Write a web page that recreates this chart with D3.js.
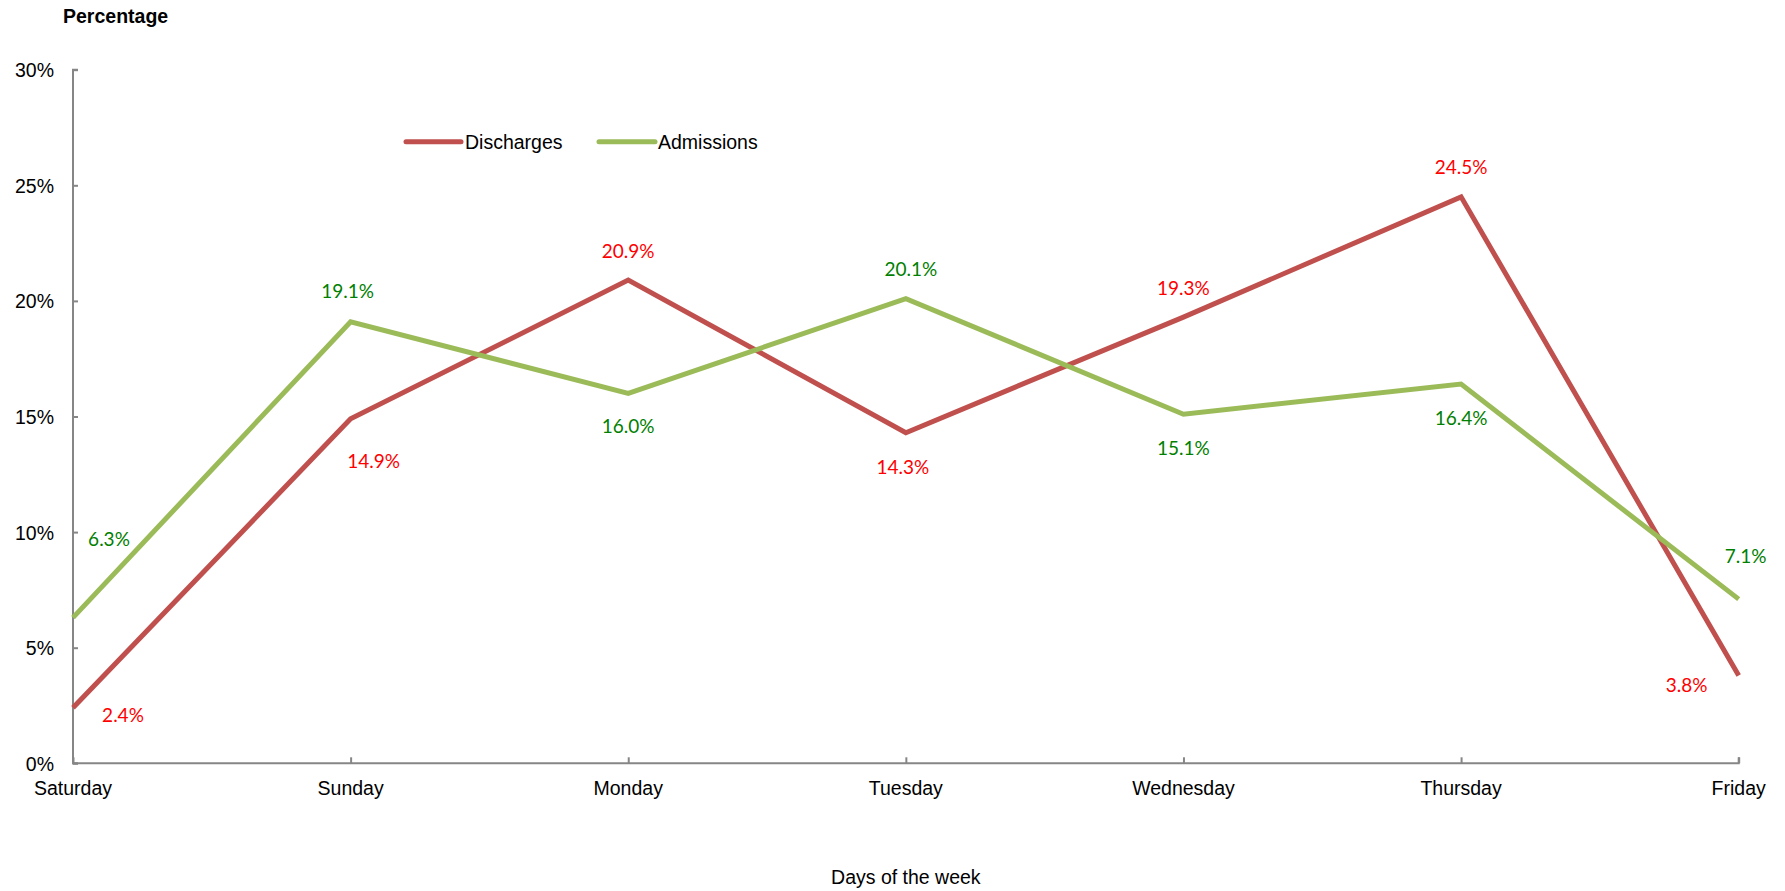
<!DOCTYPE html>
<html>
<head>
<meta charset="utf-8">
<script src="https://cdn.jsdelivr.net/npm/d3@7"></script>
<style>
  body { margin: 0; background: #fff; }
  svg { display: block; }
  .axis-text { font-family: "Liberation Sans", Arial, sans-serif; font-size: 19.5px; fill: #000; }
  .data-label { font-family: Lato, "Open Sans", sans-serif; font-size: 19px; }
</style>
</head>
<body>
<div id="chart"></div>
<script>
// Data
const days = ["Saturday", "Sunday", "Monday", "Tuesday", "Wednesday", "Thursday", "Friday"];
const discharges = [2.4, 14.9, 20.9, 14.3, 19.3, 24.5, 3.8];
const admissions = [6.3, 19.1, 16.0, 20.1, 15.1, 16.4, 7.1];
const yTicks = [0, 5, 10, 15, 20, 25, 30];

// label placement relative to each point (dx, dy)
const dischargeLabelPos = [[50, 7], [23, 42], [0, -29], [-3, 34], [0, -29], [0, -30], [-52, 10]];
const admissionLabelPos = [[36, -78], [-3, -31], [0, 33], [5, -29], [0, 34], [0, 34], [7, -43]];

function createLineChart() {
    const W = 1785, H = 891;
    const left = 73, right = 1738.7, top = 69.7, bottom = 763.3;

    const svg = d3.select("#chart").append("svg")
        .attr("width", W)
        .attr("height", H);

    // Skalor
    const x = d3.scalePoint().domain(days).range([left, right]);
    const y = d3.scaleLinear().domain([0, 30]).range([bottom, top]);

    // Y-axel
    const yAxis = svg.append("g")
        .attr("transform", `translate(${left},0)`)
        .call(d3.axisRight(y).tickValues(yTicks).tickSize(5).tickFormat(d => d + "%"));
    yAxis.select(".domain").attr("d", `M5,${top}H0V${bottom}H5`);
    yAxis.selectAll("line, path").attr("stroke", "#868686").attr("stroke-width", 2);
    yAxis.selectAll("text")
        .attr("class", "axis-text")
        .attr("x", -19)
        .attr("dy", "0.36em")
        .attr("text-anchor", "end");

    // X-axel
    const xAxis = svg.append("g")
        .attr("transform", `translate(0,${bottom})`)
        .call(d3.axisTop(x).tickSize(6).tickFormat(""));
    xAxis.select(".domain").attr("d", `M${left},-6V0H${right}V-6`);
    xAxis.selectAll("line, path").attr("stroke", "#868686").attr("stroke-width", 2);

    svg.append("g").selectAll("text")
        .data(days)
        .enter().append("text")
        .attr("class", "axis-text")
        .attr("x", d => x(d))
        .attr("y", 787.7)
        .attr("dy", "0.36em")
        .attr("text-anchor", "middle")
        .text(d => d);

    // Titlar
    svg.append("text")
        .attr("class", "axis-text")
        .attr("x", 63)
        .attr("y", 16)
        .attr("dy", "0.36em")
        .style("font-weight", "bold")
        .text("Percentage");

    svg.append("text")
        .attr("class", "axis-text")
        .attr("x", (left + right) / 2)
        .attr("y", 877)
        .attr("dy", "0.36em")
        .attr("text-anchor", "middle")
        .text("Days of the week");

    // Linjer
    const series = [
        { name: "Discharges", values: discharges, color: "#C0504D", labelColor: "#FF0000", pos: dischargeLabelPos },
        { name: "Admissions", values: admissions, color: "#9BBB59", labelColor: "#008000", pos: admissionLabelPos }
    ];

    const line = d3.line()
        .x((d, i) => x(days[i]))
        .y(d => y(d));

    series.forEach(s => {
        svg.append("path")
            .datum(s.values)
            .attr("fill", "none")
            .attr("stroke", s.color)
            .attr("stroke-width", 5)
            .attr("stroke-linejoin", "miter")
            .attr("d", line);
    });

    // Datavärden
    series.forEach(s => {
        svg.append("g").selectAll("text")
            .data(s.values)
            .enter().append("text")
            .attr("class", "data-label")
            .attr("fill", s.labelColor)
            .attr("x", (d, i) => x(days[i]) + s.pos[i][0])
            .attr("y", (d, i) => y(d) + s.pos[i][1])
            .attr("dy", "0.36em")
            .attr("text-anchor", "middle")
            .text(d => d.toFixed(1) + "%");
    });

    // Legend
    const legendItems = [
        { s: series[0], x1: 406, x2: 461, tx: 465 },
        { s: series[1], x1: 599, x2: 655, tx: 658 }
    ];
    const legend = svg.append("g");
    legendItems.forEach(item => {
        legend.append("line")
            .attr("x1", item.x1).attr("x2", item.x2)
            .attr("y1", 141.7).attr("y2", 141.7)
            .attr("stroke", item.s.color)
            .attr("stroke-width", 5)
            .attr("stroke-linecap", "round");
        legend.append("text")
            .attr("class", "axis-text")
            .attr("x", item.tx)
            .attr("y", 141.7)
            .attr("dy", "0.36em")
            .text(item.s.name);
    });
}

createLineChart();
</script>
</body>
</html>
